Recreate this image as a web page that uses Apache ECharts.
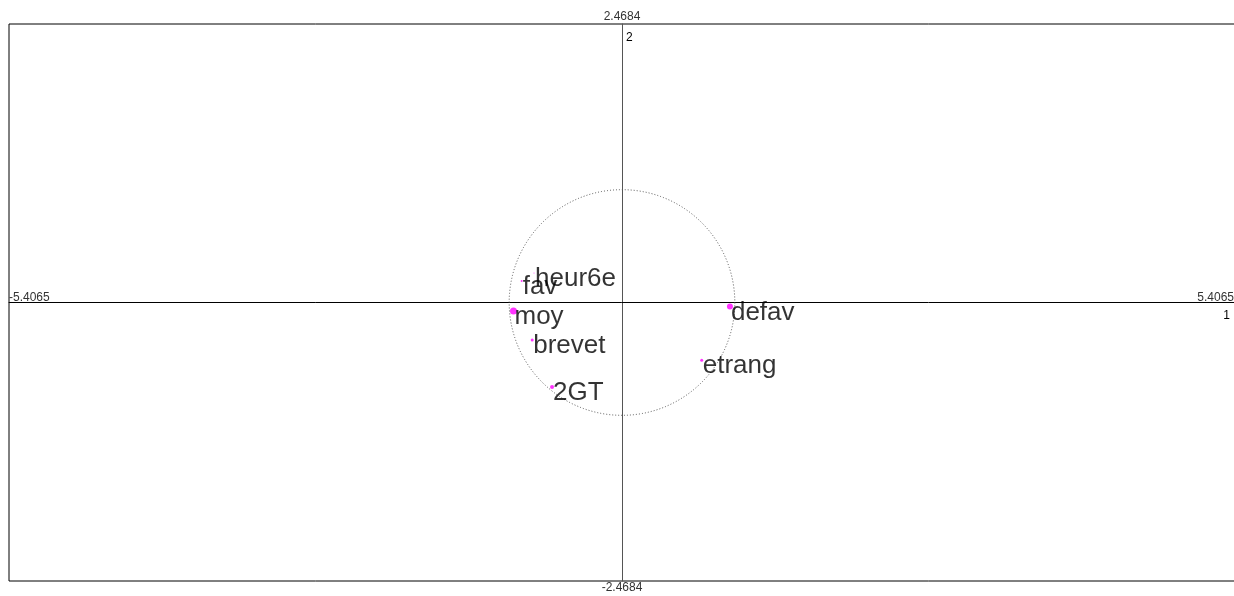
<!DOCTYPE html>
<html>
<head>
<meta charset="utf-8">
<script src="https://cdn.jsdelivr.net/npm/echarts@6/dist/echarts.min.js"></script>
<style>
html,body{margin:0;padding:0;background:#fff;}
#chart{width:1234px;height:596px;}
</style>
</head>
<body>
<div id="chart"></div>
<script>
// Variable names and correlation-circle coordinates (axis 1, axis 2)
const names   = ['heur6e', 'fav', 'moy', 'brevet', '2GT', 'defav', 'etrang'];
const axis1   = [-0.776, -0.885, -0.957, -0.792, -0.617, 0.952, 0.703];
const axis2   = [0.262, 0.191, -0.075, -0.333, -0.748, -0.036, -0.511];
const dotSize = [1, 2, 7, 3, 4, 6, 3];

// Axis limits and tick labels
const xLimits = [-5.4065, 5.4065];
const yLimits = [-2.4684, 2.4684];
const xTickLabels = ['-5.4065', '5.4065'];
const yTickLabels = ['-2.4684', '2.4684'];
const axisNames = ['1', '2'];

const FONT = 'Liberation Sans, Arial, sans-serif';
const chart = echarts.init(document.getElementById('chart'), null, {renderer: 'canvas'});

const pts = names.map((n, i) => ({
  name: n,
  value: [axis1[i], axis2[i]],
  symbolSize: dotSize[i]
}));

const option = {
  animation: false,
  backgroundColor: '#fff',
  textStyle: {fontFamily: FONT},
  grid: {
    left: 9, right: -1, top: 24, bottom: 15,
    show: true, borderColor: '#000', borderWidth: 1,
    containLabel: false,
    outerBoundsMode: 'none'
  },
  xAxis: {
    type: 'value',
    min: xLimits[0], max: xLimits[1],
    splitLine: {show: false},
    axisTick: {show: false},
    axisLabel: {show: false},
    axisLine: {onZero: true, lineStyle: {color: '#000', width: 1}}
  },
  yAxis: {
    type: 'value',
    min: yLimits[0], max: yLimits[1],
    splitLine: {show: false},
    axisTick: {show: false},
    axisLabel: {show: false},
    axisLine: {onZero: true, lineStyle: {color: '#555', width: 1}}
  },
  series: [
    {
      type: 'custom',
      silent: true,
      data: [[0, 0]],
      renderItem: function (params, api) {
        const c = api.coord([0, 0]);
        const s = api.size([1, 1]);
        return {
          type: 'circle',
          shape: {cx: c[0], cy: c[1], r: s[1]},
          style: {fill: null, stroke: '#555', lineWidth: 1, lineDash: [1, 2]}
        };
      },
      z: 1
    },
    {
      type: 'scatter',
      data: pts,
      itemStyle: {color: '#ff00ff'},
      label: {
        show: true,
        position: 'inside',
        align: 'left',
        verticalAlign: 'middle',
        offset: [1, 6],
        formatter: p => p.name,
        color: '#000',
        fontSize: 26,
        fontFamily: FONT
      },
      z: 3
    }
  ]
};

chart.setOption(option);

// Tick labels and axis numbers placed through the axes' own scales
const o   = chart.convertToPixel({gridIndex: 0}, [0, 0]);
const pMin = chart.convertToPixel({gridIndex: 0}, [xLimits[0], yLimits[0]]);
const pMax = chart.convertToPixel({gridIndex: 0}, [xLimits[1], yLimits[1]]);
const tStyle = (text, x, y, align, vAlign, color) => ({
  type: 'text', x: x, y: y, silent: true,
  style: {text: text, fill: color || '#333', font: '12px ' + FONT, align: align, verticalAlign: vAlign}
});
chart.setOption({
  graphic: [
    tStyle(xTickLabels[0], pMin[0], o[1] + 1, 'left', 'bottom'),
    tStyle(xTickLabels[1], Math.min(pMax[0], 1234), o[1] + 1, 'right', 'bottom'),
    tStyle(yTickLabels[1], o[0], pMax[1] - 1, 'center', 'bottom'),
    tStyle(yTickLabels[0], o[0], pMin[1] + 1, 'center', 'top'),
    tStyle(axisNames[0], Math.min(pMax[0], 1234) - 4, o[1] + 7, 'right', 'top', '#000'),
    tStyle(axisNames[1], o[0] + 4, pMax[1] + 8, 'left', 'top', '#000')
  ]
});
</script>
</body>
</html>
